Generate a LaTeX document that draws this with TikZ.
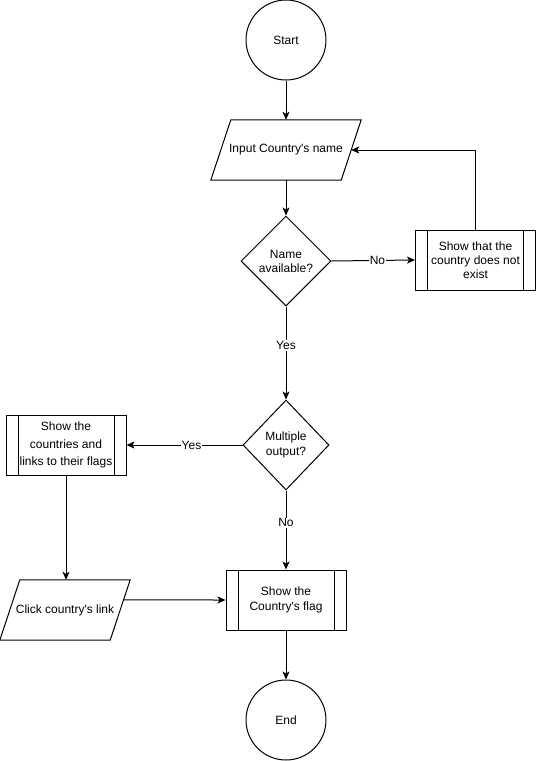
\documentclass[tikz,border=0pt]{standalone}
\usepackage{fontspec}
\setmainfont{Liberation Sans}
\usetikzlibrary{arrows.meta,shapes.geometric,calc}
\begin{document}
\begin{tikzpicture}[x=1pt,y=-1pt,
  every node/.style={font=\fontsize{12}{14}\selectfont, text=black},
  line/.style={line width=1pt, draw=black},
  arr/.style={line, -{Stealth[length=8pt,width=7pt,inset=2pt]}},
  term/.style={circle, line, minimum size=80pt, inner sep=0pt},
  iobox/.style={rectangle, minimum width=150pt, minimum height=60pt, inner sep=0pt, align=center},
  decision/.style={diamond, line, minimum width=90pt, minimum height=90pt, inner sep=0pt, align=center},
  procbox/.style={rectangle, line, minimum width=120pt, minimum height=60pt, inner sep=0pt, align=center,
    path picture={
      \draw[line width=1pt] ([xshift=12pt]path picture bounding box.north west) -- ([xshift=12pt]path picture bounding box.south west);
      \draw[line width=1pt] ([xshift=-12pt]path picture bounding box.north east) -- ([xshift=-12pt]path picture bounding box.south east);
    }},
  lbl/.style={fill=white, inner sep=1pt}
]
\useasboundingbox (0,0) rectangle (536,761);

\node[term] (start) at (286,40) {Start};
\node[iobox] (input) at (286,150) {Input Country\textquotesingle s name};
\draw[line] (input.south west) -- ([xshift=20pt]input.north west) -- (input.north east) -- ([xshift=-20pt]input.south east) -- cycle;
\node[decision] (d1) at (286,261) {Name\\available?};
\node[procbox] (nx) at (475.5,260) {Show that the\\country does not\\exist};
\node[decision, minimum width=86pt, font=\fontsize{12}{15}\selectfont] (d2) at (286,445) {Multiple\\output?};
\node[procbox, font=\fontsize{12}{17.5}\selectfont] (multi) at (66,445) {Show the\\countries and\\links to their flags};
\node[procbox, minimum width=120pt, font=\fontsize{12}{15}\selectfont] (flag) at (286,600) {Show the\\Country\textquotesingle s flag};
\node[iobox, minimum width=130pt] (click) at (65,610) {Click country\textquotesingle s link};
\draw[line] (click.south west) -- ([xshift=20pt]click.north west) -- (click.north east) -- ([xshift=-20pt]click.south east) -- cycle;
\node[term] (end) at (286,720) {End};

\coordinate (inR) at ([xshift=-10pt]input.east);
\coordinate (clR) at ($(click.north east)!0.3333!([xshift=-20pt]click.south east)$);

\draw[arr] (start) -- (input);
\draw[arr] (input) -- (d1);
\draw[arr] (d1.east) -- node[lbl, pos=0.55] {No} (nx.west);
\draw[arr] (nx.north) |- (inR);
\draw[arr] (d1.south) -- node[lbl, pos=0.42] {Yes} (d2.north);
\draw[arr] (d2.west) -- node[lbl, pos=0.44] {Yes} (multi.east);
\draw[arr] (d2.south) -- node[lbl, pos=0.41] {No} (flag.north);
\draw[arr] (multi.south) -- (multi.south |- click.north);
\draw[arr] (clR) -- (flag.west);
\draw[arr] (flag.south) -- (end.north);
\end{tikzpicture}
\end{document}
